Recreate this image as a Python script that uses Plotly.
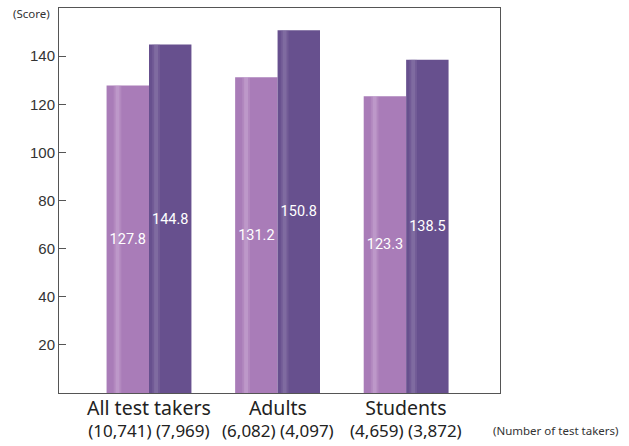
import plotly.graph_objects as go

categories = ["All test takers", "Adults", "Students"]
counts_a = ["10,741", "6,082", "4,659"]
counts_b = ["7,969", "4,097", "3,872"]
scores_a = [127.8, 131.2, 123.3]
scores_b = [144.8, 150.8, 138.5]
y_ticks = [20, 40, 60, 80, 100, 120, 140]

xs = list(range(len(categories)))
W = 0.33

fig = go.Figure()
# main bars
fig.add_trace(go.Bar(x=xs, y=scores_a, width=W, offset=-W,
                     marker=dict(color="#a97cb8", line=dict(width=0)), hoverinfo="skip"))
fig.add_trace(go.Bar(x=xs, y=scores_b, width=W, offset=0,
                     marker=dict(color="#67508e", line=dict(width=0)), hoverinfo="skip"))
# soft highlight stripes (gradient look)
for off, w, col in [(-W + 0.055, 0.06, "rgba(200,165,210,0.3)"),
                    (-W + 0.07, 0.03, "rgba(215,190,225,0.3)")]:
    fig.add_trace(go.Bar(x=xs, y=scores_a, width=w, offset=off,
                         marker=dict(color=col, line=dict(width=0)), hoverinfo="skip"))
for off, w, col in [(0.025, 0.06, "rgba(140,120,170,0.3)"),
                    (0.04, 0.03, "rgba(160,145,185,0.3)")]:
    fig.add_trace(go.Bar(x=xs, y=scores_b, width=w, offset=off,
                         marker=dict(color=col, line=dict(width=0)), hoverinfo="skip"))
# value labels on top
for vals, off in [(scores_a, -W), (scores_b, 0)]:
    fig.add_trace(go.Bar(x=xs, y=vals, width=W, offset=off,
                         marker=dict(color="rgba(0,0,0,0)", line=dict(width=0)),
                         text=[f"{v:.1f}" for v in vals], textposition="inside",
                         insidetextanchor="middle", textangle=0,
                         textfont=dict(color="white", size=15, family="Roboto"),
                         hoverinfo="skip"))

annotations = [
    dict(text="(Score)", xref="paper", yref="paper", x=-0.016, y=0.986,
         xanchor="right", yanchor="middle", showarrow=False,
         font=dict(size=11.5, color="#333", family="Noto Sans")),
    dict(text="(Number of test takers)", xref="paper", yref="paper", x=1.272, y=-0.097,
         xanchor="right", yanchor="middle", showarrow=False,
         font=dict(size=11.5, color="#333", family="Noto Sans")),
]
for x, c, a, b in zip(xs, categories, counts_a, counts_b):
    annotations.append(dict(
        text=f"<span style='font-size:19.5px'>{c}</span><br>({a}) ({b})",
        xref="x", yref="paper", x=x, y=-0.066,
        xanchor="center", yanchor="middle", showarrow=False,
        font=dict(size=17, color="#222", family="Noto Sans")))

fig.update_layout(
    width=629, height=446,
    margin=dict(l=59, r=129, t=8, b=53),
    barmode="overlay",
    showlegend=False,
    plot_bgcolor="white", paper_bgcolor="white",
    xaxis=dict(range=[-0.7, 2.73], tickvals=xs, showticklabels=False, automargin=False,
               showline=True, linecolor="#555", linewidth=1, mirror=True,
               showgrid=False, ticks="", zeroline=False),
    yaxis=dict(range=[0, 160], tickvals=y_ticks, automargin=False,
               showline=True, linecolor="#555", linewidth=1, mirror=True,
               showgrid=False, ticks="inside", ticklen=7, tickcolor="#555",
               zeroline=False,
               tickfont=dict(size=15, color="#333", family="Liberation Sans")),
    annotations=annotations,
)
fig.write_html("out.html", config={"displayModeBar": False},
               post_script="document.body.style.margin='0';document.body.style.overflow='hidden';")
